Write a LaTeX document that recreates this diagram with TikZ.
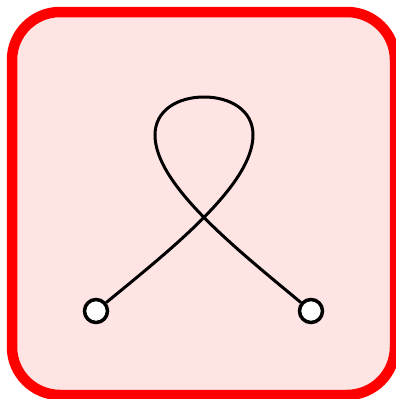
\documentclass[tikz,border=0pt]{standalone}
\usetikzlibrary{backgrounds}
\definecolor{panelfill}{RGB}{255,228,228}
\definecolor{panelred}{RGB}{255,0,0}
\tikzset{
  panel/.style={draw=panelred, line width=10.5pt, fill=panelfill, rounded corners=48pt},
  endpt/.style={circle, draw=black, fill=white, line width=3.5pt, minimum size=23pt, inner sep=0pt},
  loopline/.style={draw=black, line width=3pt}
}
\begin{document}
\begin{tikzpicture}[x=1pt, y=-1pt]
\useasboundingbox (0,0) rectangle (396,399);
\node[endpt] (a) at (96,311) {};
\node[endpt] (b) at (311,311) {};
\begin{pgfonlayer}{background}
\path[panel] (12,12) rectangle (395,395);
\path[loopline] (a) .. controls (170,250) and (253,185) .. (253,135)
  .. controls (253,110) and (230,97) .. (204,97)
  .. controls (178,97) and (155,110) .. (155,135)
  .. controls (155,185) and (238,250) .. (b);
\end{pgfonlayer}
\end{tikzpicture}
\end{document}
